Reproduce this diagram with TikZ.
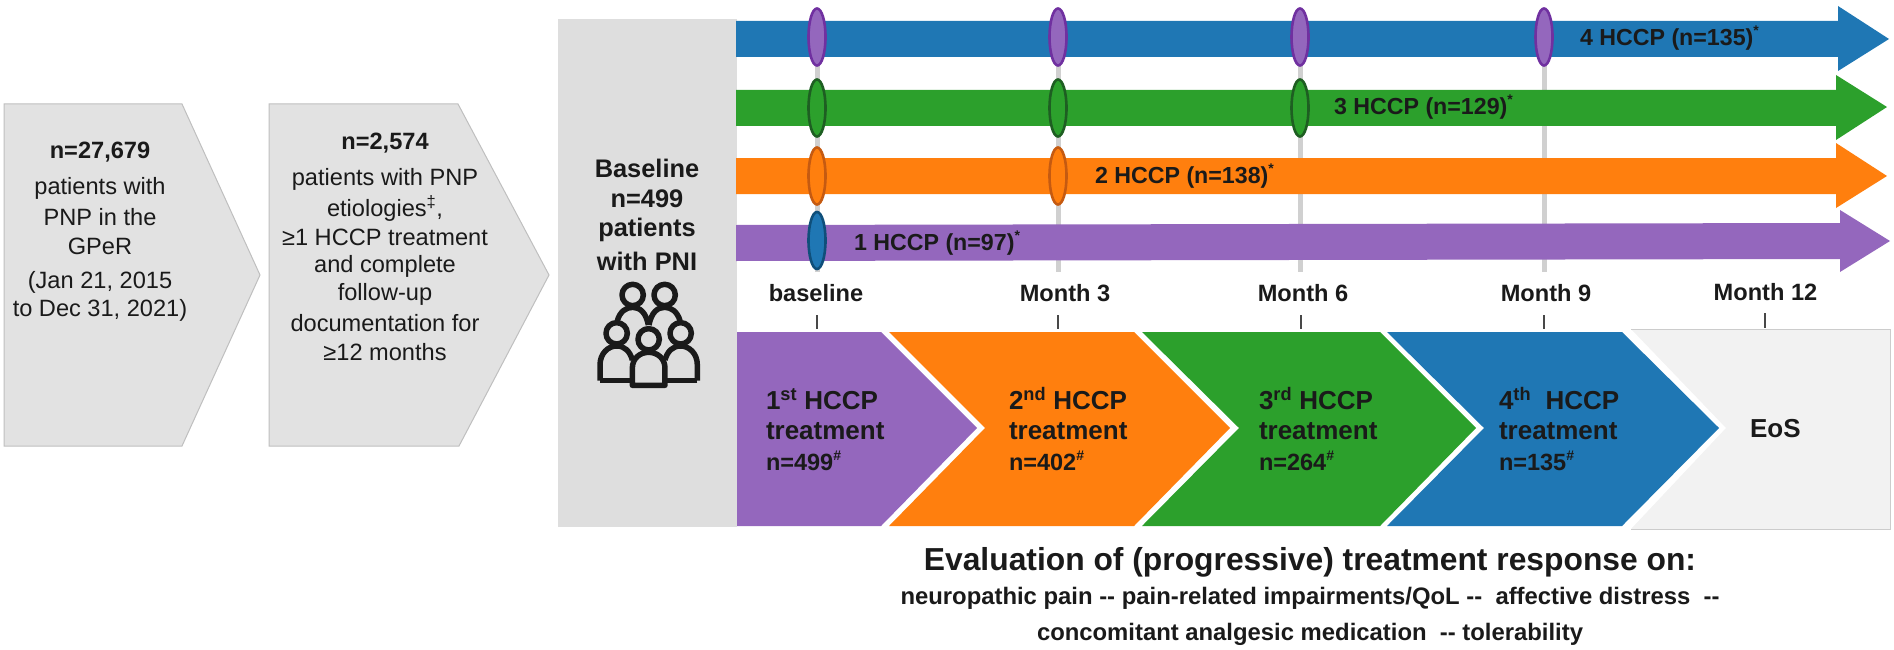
\documentclass[tikz,border=0pt]{standalone}
\usepackage{fontspec}
\setmainfont{Liberation Sans}[Ligatures=NoCommon]
\usetikzlibrary{shapes.geometric}
\definecolor{cblue}{HTML}{1F77B4}
\definecolor{cgreen}{HTML}{2CA02C}
\definecolor{corange}{HTML}{FF7F0E}
\definecolor{cpurple}{HTML}{9467BD}
\definecolor{dblue}{HTML}{0F4F7A}
\definecolor{dgreen}{HTML}{1E5E22}
\definecolor{dorange}{HTML}{C55A11}
\definecolor{dpurple}{HTML}{7030A0}
\definecolor{ink}{HTML}{1A1A1A}
\definecolor{gpent}{HTML}{E2E2E2}
\definecolor{gbase}{HTML}{DEDEDE}
\definecolor{gline}{HTML}{D0D0D0}
\definecolor{geos}{HTML}{F2F2F2}
\newcommand{\fsz}[1]{\fontsize{#1}{#1}\selectfont}
\newcommand{\smallsup}[1]{\raisebox{0.42em}{\fsz{14}#1}}
\newcommand{\dd}{-\kern0pt-}
\tikzset{
  txt/.style={inner sep=0pt,outer sep=0pt,text=ink,font=\fsz{23.6}},
  btxt/.style={txt,font=\fsz{23.6}\bfseries},
  chevtxt/.style={inner sep=0pt,outer sep=0pt,text=ink,anchor=west,font=\fsz{26}\bfseries},
  nsub/.style={chevtxt,font=\fsz{23.5}\bfseries},
  pent/.style={fill=gpent,draw=black!25,line width=1pt},
  vline/.style={draw=gline,line width=5pt},
  tick/.style={draw=ink!80,line width=1.6pt},
  mk/.style={ellipse,minimum width=17pt,minimum height=57pt,inner sep=0pt,line width=2.6pt},
  lab/.style={inner sep=0pt,outer sep=0pt,text=ink,anchor=west,font=\fsz{23.2}\bfseries},
  mon/.style={btxt},
  ico/.style={draw=ink,line width=5.5pt,line join=round}
}
\begin{document}
\begin{tikzpicture}[x=1pt,y=-1pt]
\useasboundingbox (0,0) rectangle (1894,650);
% left pentagons
\path[pent] (4,104) -- (182,104) -- (260,275) -- (182,446) -- (4,446) -- cycle;
\path[pent] (269,104) -- (458,104) -- (549,275) -- (459,446) -- (269,446) -- cycle;
\node[btxt] (a0) at (100,152) {n=27,679};
\node[txt] (a1) at (100,188) {patients with};
\node[txt] (a2) at (100,217) {PNP in the};
\node[txt] (a3) at (100,246) {GPeR};
\node[txt] (a4) at (100,282) {(Jan 21, 2015};
\node[txt] (a5) at (100,310) {to Dec 31, 2021)};
\node[btxt] (b0) at (385,143) {n=2,574};
\node[txt] (b1) at (385,179) {patients with PNP};
\node[txt] (b2) at (385,208) {etiologies\textsuperscript{‡},};
\node[txt] (b3) at (385,237) {≥1 HCCP treatment};
\node[txt] (b4) at (385,266) {and complete};
\node[txt] (b5) at (385,294) {follow-up};
\node[txt] (b6) at (385,323) {documentation for};
\node[txt] (b7) at (385,352) {≥12 months};
% baseline panel
\fill[gbase] (558,19) rectangle (737,527);
\node[btxt,font=\fsz{25.4}\bfseries] (c0) at (647,168) {Baseline};
\node[btxt,font=\fsz{25.4}\bfseries] (c1) at (647,199) {n=499};
\node[btxt,font=\fsz{25.4}\bfseries] (c2) at (647,230) {patients};
\node[btxt,font=\fsz{25.4}\bfseries] (c3) at (647,261) {with PNI};
% people icon
\begin{scope}[shift={(560,130)},x=0.3333pt,y=-0.3333pt]
  \draw[ico] (218,495) circle (32pt/3);
  \draw[ico] (314,495) circle (32pt/3);
  \draw[ico] (172,572) .. controls (180,545) and (198,532) .. (218,532) .. controls (240,532) and (258,548) .. (265,585);
  \draw[ico] (267,585) .. controls (274,548) and (292,532) .. (314,532) .. controls (334,532) and (352,545) .. (360,572);
  \draw[ico] (170,610) circle (32pt/3);
  \draw[ico] (362,610) circle (32pt/3);
  \draw[ico] (120,752) -- (120,705) .. controls (120,670) and (145,648) .. (170,648) .. controls (195,648) and (210,665) .. (217,690);
  \draw[ico] (120,752) -- (217,752);
  \draw[ico] (412,752) -- (412,705) .. controls (412,670) and (387,648) .. (362,648) .. controls (337,648) and (322,665) .. (315,690);
  \draw[ico] (412,752) -- (315,752);
  \draw[ico] (266,628) circle (32pt/3);
  \draw[ico] (217,766) -- (217,715) .. controls (217,685) and (240,667) .. (266,667) .. controls (292,667) and (315,685) .. (315,715) -- (315,766) -- cycle;
\end{scope}
% vertical guides
\foreach \gx/\gn in {817/g1,1058/g2,1300/g3,1544/g4}{
  \coordinate (\gn t) at (\gx,40);
  \coordinate (\gn b) at (\gx,272);
  \draw[vline] (\gn t) -- (\gn b);
}
% arrows
\fill[cblue] (736,21) -- (1838,21) -- (1838,6) -- (1889,39) -- (1838,71) -- (1838,57) -- (736,57) -- cycle;
\fill[cgreen] (736,90) -- (1836,90) -- (1836,75) -- (1887,107) -- (1836,140) -- (1836,126) -- (736,126) -- cycle;
\fill[corange] (736,158) -- (1836,158) -- (1836,143) -- (1887,176) -- (1836,208) -- (1836,194) -- (736,194) -- cycle;
\fill[cpurple] (736,225) -- (1840,223) -- (1840,210) -- (1890,241) -- (1840,272) -- (1840,259) -- (736,261) -- cycle;
% markers
\foreach \mx/\mn in {817/p1,1058/p2,1300/p3,1544/p4}
  \node[mk,fill=cpurple,draw=dpurple] (\mn) at (\mx,37) {};
\foreach \mx/\mn in {817/q1,1058/q2,1300/q3}
  \node[mk,fill=cgreen,draw=dgreen] (\mn) at (\mx,108) {};
\foreach \mx/\mn in {817/r1,1058/r2}
  \node[mk,fill=corange,draw=dorange] (\mn) at (\mx,176) {};
\node[mk,fill=cblue,draw=dblue] (s1) at (817,240.5) {};
% arrow labels
\node[lab] (l4) at (1580,38) {4 HCCP (n=135)\smallsup{*}};
\node[lab] (l3) at (1334,107) {3 HCCP (n=129)\smallsup{*}};
\node[lab] (l2) at (1095,176) {2 HCCP (n=138)\smallsup{*}};
\node[lab] (l1) at (854,243) {1 HCCP (n=97)\smallsup{*}};
% months
\node[mon] (m0) at (816,293) {baseline};
\node[mon] (m1) at (1065,293) {Month 3};
\node[mon] (m2) at (1303,293) {Month 6};
\node[mon] (m3) at (1546,293) {Month 9};
\node[mon] (m4) at (1765.5,292) {Month 12};
\draw[tick] (817,315) -- (817,329);
\draw[tick] (1058,315) -- (1058,329);
\draw[tick] (1301,315) -- (1301,329);
\draw[tick] (1544,315) -- (1544,329);
\draw[tick] (1765,313) -- (1765,328);
% EoS chevron
\fill[geos] (1631,329) -- (1890,329) -- (1890,529) -- (1631,529) -- (1726,428) -- cycle;
\draw[black!20,line width=1pt] (1631,529) -- (1890,529) -- (1890,329) -- (1631,329);
% treatment chevrons
\fill[cpurple] (737,332) -- (881,332) -- (977,428) -- (881,526) -- (737,526) -- cycle;
\fill[corange] (889,332) -- (1134,332) -- (1230,428) -- (1134,526) -- (889,526) -- (985,428) -- cycle;
\fill[cgreen] (1142,332) -- (1380,332) -- (1476,428) -- (1380,526) -- (1142,526) -- (1239,428) -- cycle;
\fill[cblue] (1387,332) -- (1622,332) -- (1719,428) -- (1622,526) -- (1387,526) -- (1484,428) -- cycle;
\node[chevtxt] (t1) at (766,399) {1\textsuperscript{st} HCCP};
\node[chevtxt] (t2) at (766,431) {treatment};
\node[nsub] (t3) at (766,461) {n=499\smallsup{\#}};
\node[chevtxt] (u1) at (1009,399) {2\textsuperscript{nd} HCCP};
\node[chevtxt] (u2) at (1009,431) {treatment};
\node[nsub] (u3) at (1009,461) {n=402\smallsup{\#}};
\node[chevtxt] (v1) at (1259,399) {3\textsuperscript{rd} HCCP};
\node[chevtxt] (v2) at (1259,431) {treatment};
\node[nsub] (v3) at (1259,461) {n=264\smallsup{\#}};
\node[chevtxt] (w1) at (1499,399) {4\textsuperscript{th}\ \ HCCP};
\node[chevtxt] (w2) at (1499,431) {treatment};
\node[nsub] (w3) at (1499,461) {n=135\smallsup{\#}};
\node[chevtxt] (eos) at (1750,429) {EoS};
% bottom text
\node[inner sep=0pt,text=ink,font=\fsz{31.8}\bfseries] (e0) at (1310,562) {Evaluation of (progressive) treatment response on:};
\node[inner sep=0pt,text=ink,font=\fsz{23.85}\bfseries] (e1) at (1310,598) {neuropathic pain \dd{} pain-related impairments/QoL \dd\ \ affective distress\ \ \dd};
\node[inner sep=0pt,text=ink,font=\fsz{23.85}\bfseries] (e2) at (1310,634) {concomitant analgesic medication\ \ \dd{} tolerability};
\end{tikzpicture}
\end{document}
